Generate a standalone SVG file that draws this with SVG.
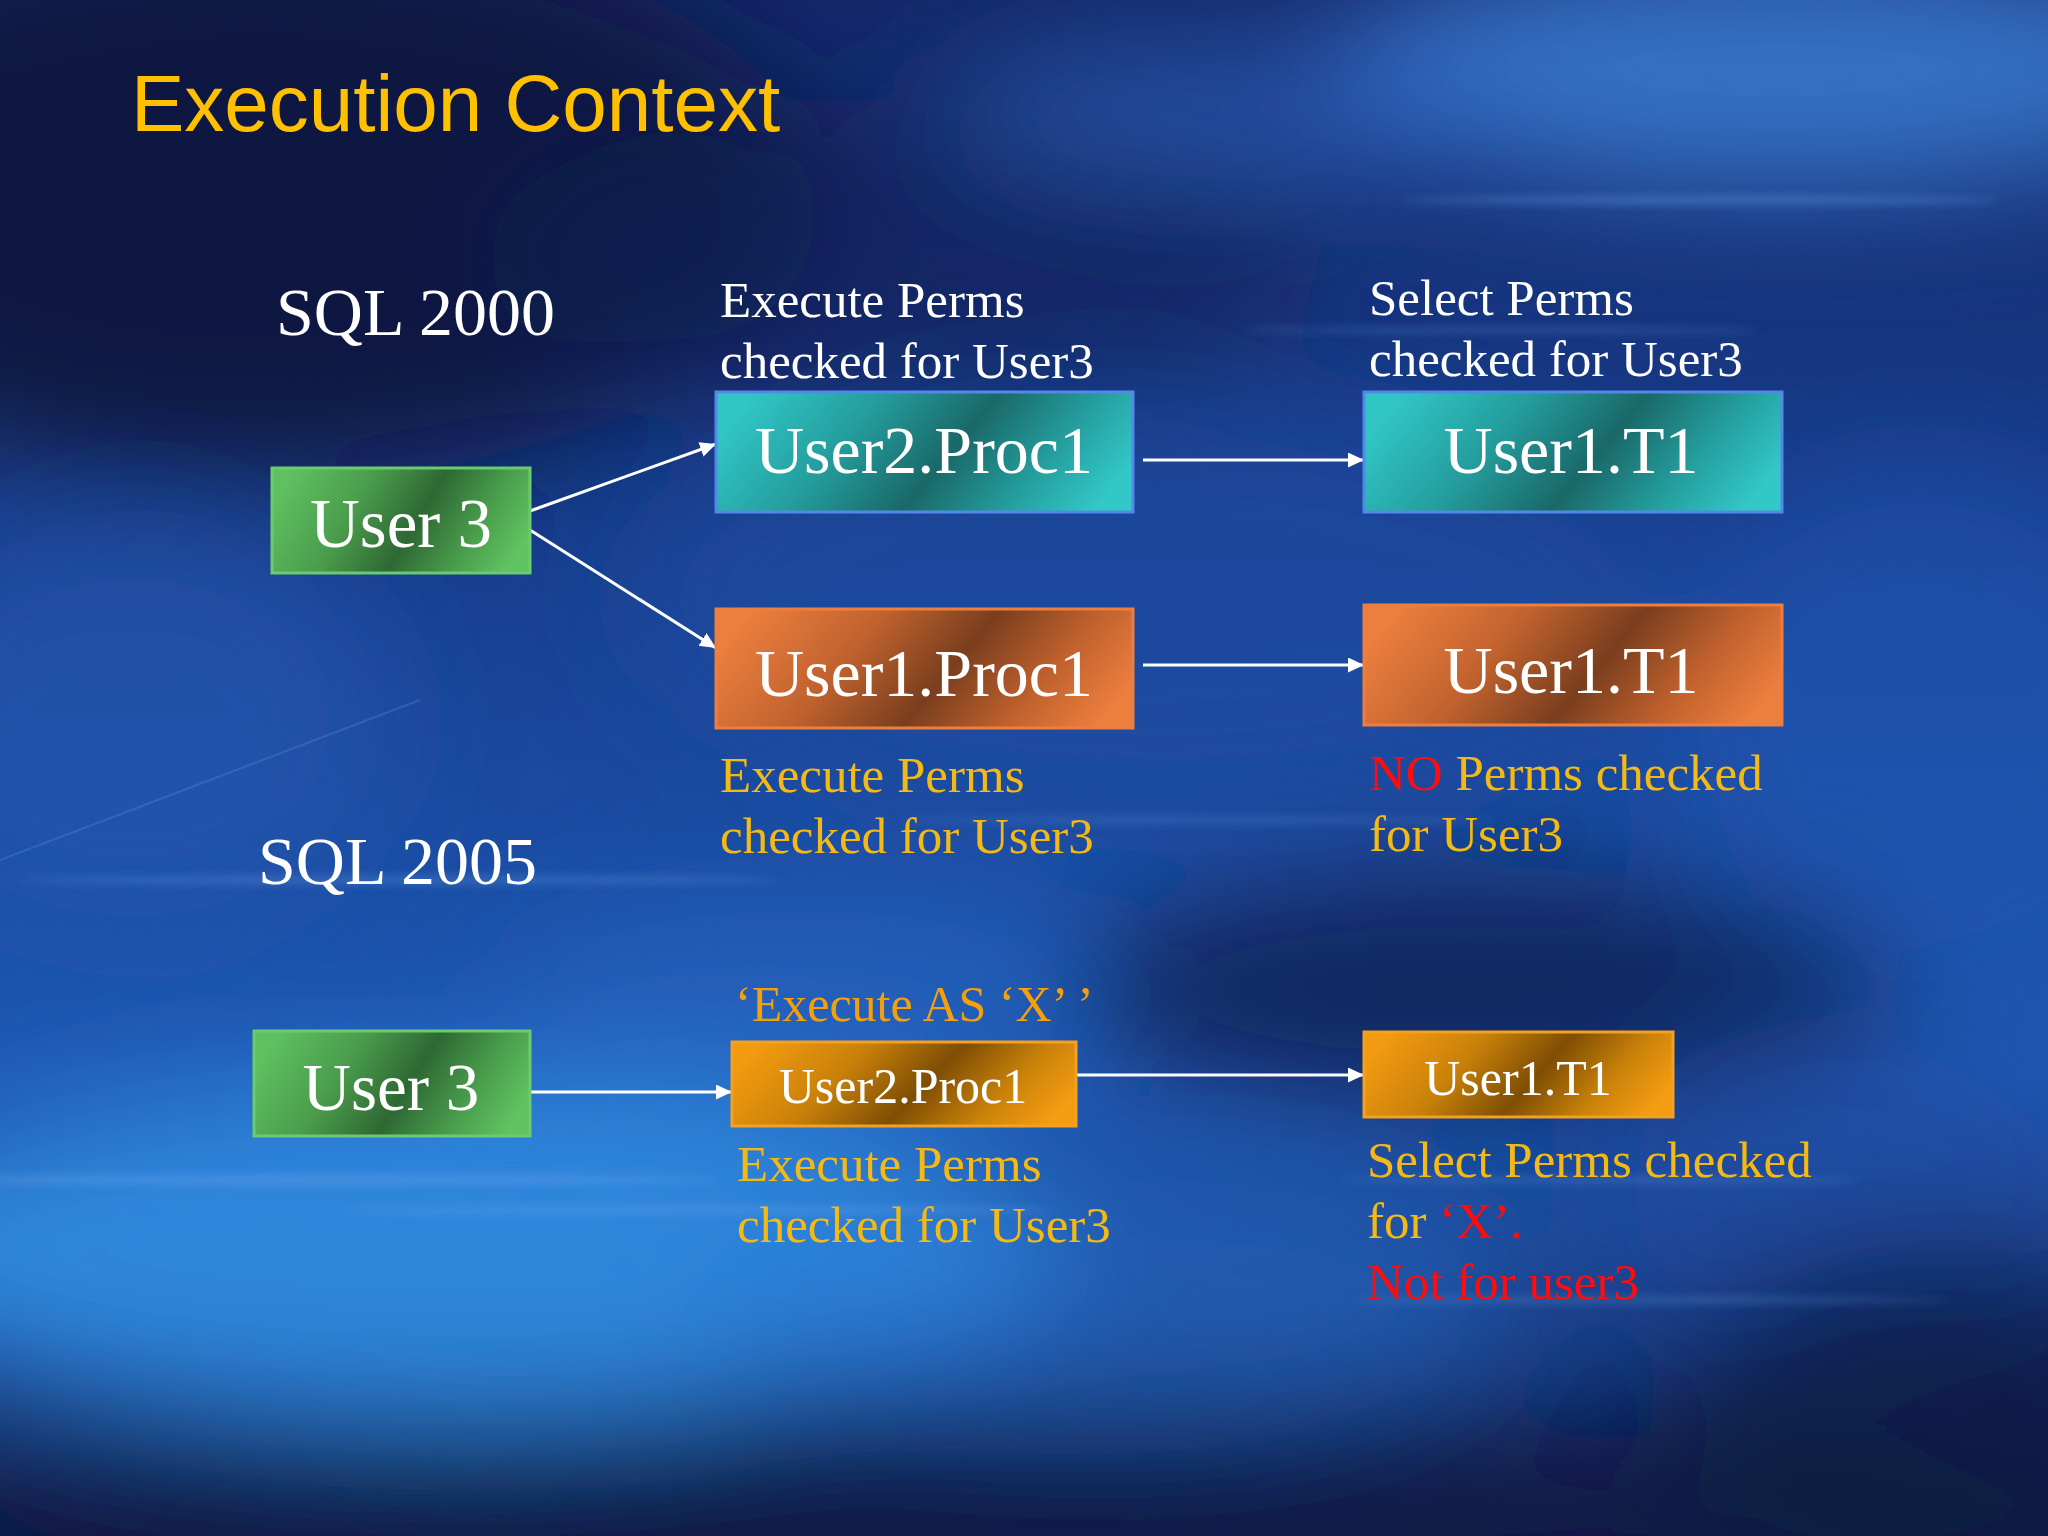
<svg xmlns="http://www.w3.org/2000/svg" width="2048" height="1536" viewBox="0 0 2048 1536">
  <style>
    .serif { font-family: "Liberation Serif", "Times New Roman", serif; }
    .node-text { font-family: "Liberation Serif", "Times New Roman", serif; fill: #FFFFFF; text-anchor: middle; }
    .label { font-family: "Liberation Serif", "Times New Roman", serif; font-size: 51px; }
    .white { fill: #FFFFFF; }
    .gold { fill: #F5B914; }
    .orange { fill: #F5A00A; }
    .red { fill: #FF0D0D; }
    .conn { stroke: #FFFFFF; stroke-width: 3; fill: none; marker-end: url(#arrow); }
    .teal { fill: url(#gTeal); stroke: #5288E8; stroke-width: 3; }
    .rust { fill: url(#gRust); stroke: #EE7E3E; stroke-width: 3; }
    .green { fill: url(#gGreen); stroke: #6CCB6C; stroke-width: 3; }
    .amber { fill: url(#gAmber); stroke: #F5A01E; stroke-width: 3; }
  </style>
  <defs>
    <marker id="arrow" markerUnits="userSpaceOnUse" markerWidth="17" markerHeight="16" refX="16" refY="7.5" orient="auto">
      <path d="M0,0 L16,7.5 L0,15 Z" fill="#FFFFFF"/>
    </marker>
    <linearGradient id="gTeal" x1="0" y1="0.38" x2="1" y2="0.62">
      <stop offset="0" stop-color="#31C6C6"/>
      <stop offset="0.3" stop-color="#249C9C"/>
      <stop offset="0.56" stop-color="#1A6868"/>
      <stop offset="0.8" stop-color="#25A0A0"/>
      <stop offset="1" stop-color="#33C8C8"/>
    </linearGradient>
    <linearGradient id="gRust" x1="0" y1="0.38" x2="1" y2="0.62">
      <stop offset="0" stop-color="#EC7E3E"/>
      <stop offset="0.3" stop-color="#C0622E"/>
      <stop offset="0.56" stop-color="#7A3E1E"/>
      <stop offset="0.8" stop-color="#C2622E"/>
      <stop offset="1" stop-color="#EC7E3E"/>
    </linearGradient>
    <linearGradient id="gGreen" x1="0" y1="0.38" x2="1" y2="0.62">
      <stop offset="0" stop-color="#5EC060"/>
      <stop offset="0.3" stop-color="#4A9C4C"/>
      <stop offset="0.56" stop-color="#2E6834"/>
      <stop offset="0.8" stop-color="#4A9E4C"/>
      <stop offset="1" stop-color="#60C462"/>
    </linearGradient>
    <linearGradient id="gAmber" x1="0" y1="0.38" x2="1" y2="0.62">
      <stop offset="0" stop-color="#F29A10"/>
      <stop offset="0.3" stop-color="#C8800A"/>
      <stop offset="0.56" stop-color="#7E4E04"/>
      <stop offset="0.8" stop-color="#CA820A"/>
      <stop offset="1" stop-color="#F49C12"/>
    </linearGradient>
    <linearGradient id="gBase" x1="0" y1="0" x2="0" y2="1">
      <stop offset="0" stop-color="#15296A"/>
      <stop offset="0.35" stop-color="#183E8E"/>
      <stop offset="0.7" stop-color="#1E58B4"/>
      <stop offset="0.9" stop-color="#17367A"/>
      <stop offset="1" stop-color="#101D4A"/>
    </linearGradient>
    <filter id="blurBig" x="-50%" y="-50%" width="200%" height="200%">
      <feGaussianBlur stdDeviation="60"/>
    </filter>
    <filter id="blurSmall" x="-20%" y="-200%" width="140%" height="500%">
      <feGaussianBlur stdDeviation="4"/>
    </filter>
  </defs>

  <!-- background -->
  <g id="background">
    <rect x="0" y="0" width="2048" height="1536" fill="url(#gBase)"/>
    <g filter="url(#blurBig)">
      <ellipse cx="260" cy="200" rx="560" ry="280" fill="#0B173F" opacity="0.95"/>
      <ellipse cx="900" cy="260" rx="420" ry="160" fill="#0F2156" opacity="0.6"/>
      <ellipse cx="1780" cy="70" rx="460" ry="120" fill="#3E82DA" opacity="0.8"/>
      <ellipse cx="1250" cy="110" rx="300" ry="70" fill="#2F66C2" opacity="0.6"/>
      <ellipse cx="1150" cy="600" rx="520" ry="200" fill="#1F4FA6" opacity="0.55"/>
      <ellipse cx="130" cy="720" rx="260" ry="200" fill="#2658B0" opacity="0.6"/>
      <ellipse cx="1920" cy="720" rx="260" ry="260" fill="#2459B8" opacity="0.5"/>
      <ellipse cx="450" cy="1250" rx="620" ry="170" fill="#3292E8" opacity="0.85"/>
      <ellipse cx="1100" cy="1300" rx="420" ry="120" fill="#2A74D0" opacity="0.5"/>
      <ellipse cx="1480" cy="990" rx="420" ry="120" fill="#101F52" opacity="0.85"/>
      <ellipse cx="1850" cy="1200" rx="260" ry="180" fill="#1E4AA0" opacity="0.5"/>
      <ellipse cx="1024" cy="1510" rx="1150" ry="80" fill="#0E1A45" opacity="0.85"/>
      <ellipse cx="1950" cy="1450" rx="300" ry="200" fill="#0D1A42" opacity="0.8"/>
      <ellipse cx="800" cy="1000" rx="300" ry="90" fill="#2A6CC8" opacity="0.5"/>
    </g>
    <g filter="url(#blurSmall)" fill="#6FA8F0">
      <ellipse cx="1700" cy="200" rx="300" ry="4" opacity="0.35"/>
      <ellipse cx="1500" cy="330" rx="260" ry="3" opacity="0.25"/>
      <ellipse cx="400" cy="880" rx="380" ry="4" opacity="0.3"/>
      <ellipse cx="300" cy="1180" rx="420" ry="5" opacity="0.35"/>
      <ellipse cx="700" cy="1210" rx="360" ry="4" opacity="0.3"/>
      <ellipse cx="1600" cy="1180" rx="260" ry="3" opacity="0.3"/>
      <ellipse cx="1650" cy="1300" rx="300" ry="4" opacity="0.25"/>
      <ellipse cx="1200" cy="820" rx="300" ry="3" opacity="0.25"/>
    </g>
    <line x1="0" y1="860" x2="420" y2="700" stroke="#7FB0F0" stroke-width="2" opacity="0.2"/>
  </g>

  <!-- title and section labels -->
  <text x="131" y="131" font-family="'Liberation Sans', Arial, sans-serif" font-size="80" fill="#FFC000">Execution Context</text>
  <text x="276" y="335" class="serif white" font-size="68">SQL 2000</text>
  <text x="258" y="884" class="serif white" font-size="68">SQL 2005</text>

  <!-- annotations -->
  <text class="label white" x="720" y="317">Execute Perms</text>
  <text class="label white" x="720" y="378">checked for User3</text>
  <text class="label white" x="1369" y="315">Select Perms</text>
  <text class="label white" x="1369" y="376">checked for User3</text>
  <text class="label gold" x="720" y="792">Execute Perms</text>
  <text class="label gold" x="720" y="853">checked for User3</text>
  <text class="label" x="1369" y="790"><tspan class="red">NO</tspan><tspan class="gold"> Perms checked</tspan></text>
  <text class="label gold" x="1369" y="851">for User3</text>
  <text class="serif orange" x="735" y="1021" font-size="50">‘Execute AS ‘X’ ’</text>
  <text class="label gold" x="737" y="1181">Execute Perms</text>
  <text class="label gold" x="737" y="1242">checked for User3</text>
  <text class="label gold" x="1367" y="1177">Select Perms checked</text>
  <text class="label" x="1367" y="1238"><tspan class="gold">for </tspan><tspan class="red">‘X’.</tspan></text>
  <text class="label red" x="1367" y="1299">Not for user3</text>

  <!-- connectors -->
  <g id="connectors">
    <line class="conn" x1="530" y1="511" x2="716" y2="444"/>
    <line class="conn" x1="530" y1="530" x2="716" y2="648"/>
    <line class="conn" x1="1143" y1="460" x2="1364" y2="460"/>
    <line class="conn" x1="1143" y1="665" x2="1364" y2="665"/>
    <line class="conn" x1="530" y1="1092" x2="732" y2="1092"/>
    <line class="conn" x1="1076" y1="1075" x2="1364" y2="1075"/>
  </g>

  <!-- nodes -->
  <g id="node-user3-2000">
    <rect class="green" x="272" y="468" width="258" height="105"/>
    <text class="node-text" x="401" y="547" font-size="69">User 3</text>
  </g>
  <g id="node-user2proc1-2000">
    <rect class="teal" x="716" y="392" width="417" height="120"/>
    <text class="node-text" x="924" y="473" font-size="68">User2.Proc1</text>
  </g>
  <g id="node-user1proc1-2000">
    <rect class="rust" x="716" y="609" width="417" height="119"/>
    <text class="node-text" x="924" y="696" font-size="68">User1.Proc1</text>
  </g>
  <g id="node-user1t1-a">
    <rect class="teal" x="1364" y="392" width="418" height="120"/>
    <text class="node-text" x="1571" y="473" font-size="68">User1.T1</text>
  </g>
  <g id="node-user1t1-b">
    <rect class="rust" x="1364" y="605" width="418" height="120"/>
    <text class="node-text" x="1571" y="693" font-size="68">User1.T1</text>
  </g>
  <g id="node-user3-2005">
    <rect class="green" x="254" y="1031" width="276" height="105"/>
    <text class="node-text" x="391" y="1110" font-size="67">User 3</text>
  </g>
  <g id="node-user2proc1-2005">
    <rect class="amber" x="732" y="1042" width="344" height="84"/>
    <text class="node-text" x="903" y="1103" font-size="50">User2.Proc1</text>
  </g>
  <g id="node-user1t1-2005">
    <rect class="amber" x="1364" y="1032" width="309" height="85"/>
    <text class="node-text" x="1518" y="1095" font-size="50">User1.T1</text>
  </g>
</svg>
